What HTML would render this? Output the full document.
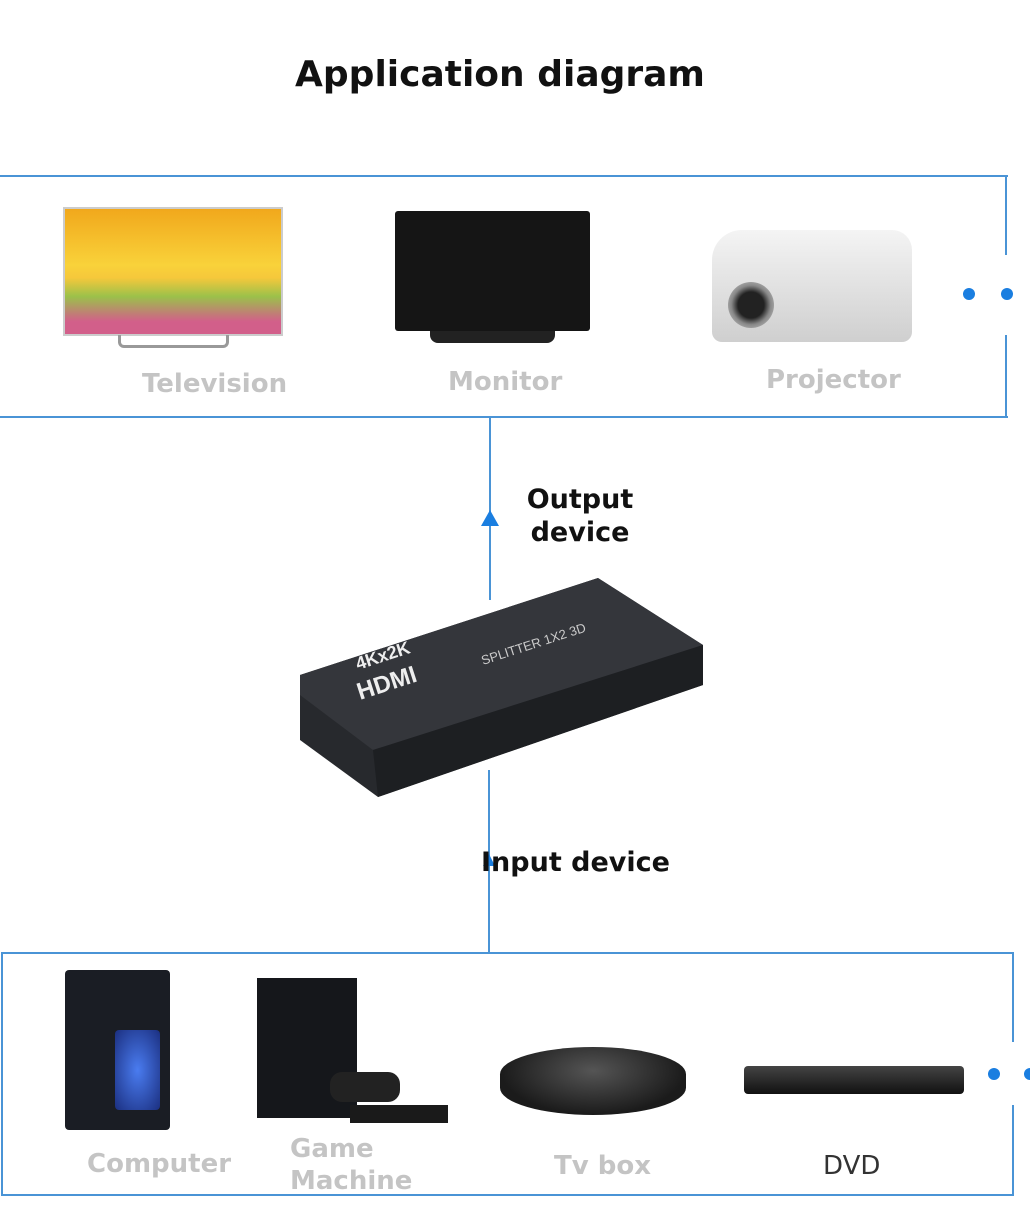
<!DOCTYPE html>
<html><head><meta charset="utf-8"><style>
body{margin:0;width:1030px;height:1213px;background:#fff;position:relative;overflow:hidden;font-family:"DejaVu Sans","Liberation Sans",sans-serif}
.a{position:absolute}
.lbl{position:absolute;color:#c4c4c4;font-weight:bold;font-size:26px}
.ln{position:absolute;background:#4a94d6}
.dot{position:absolute;width:12px;height:12px;border-radius:50%;background:#1a7ee0}
</style></head><body>
<div class="a" style="left:0;top:54px;width:1000px;text-align:center;font-size:36px;font-weight:bold;color:#111">Application diagram</div>

<div class="ln" style="left:0;top:175px;width:1008px;height:2px"></div>
<div class="ln" style="left:0;top:416px;width:1008px;height:2px"></div>
<div class="ln" style="left:1005px;top:175px;width:2px;height:80px"></div>
<div class="ln" style="left:1005px;top:335px;width:2px;height:83px"></div>
<div class="dot" style="left:963px;top:288px"></div>
<div class="dot" style="left:1001px;top:288px"></div>

<div class="a" style="left:63px;top:207px;width:216px;height:125px;background:linear-gradient(#f1a81c,#f9d23a 45%,#f6c83b 55%,#9bc14a 70%,#d25f8a 90%);border:2px solid #ccc"></div>
<div class="a" style="left:118px;top:335px;width:105px;height:10px;border:3px solid #999;border-top:none;border-radius:0 0 6px 6px"></div>
<div class="a" style="left:395px;top:211px;width:195px;height:120px;background:#151515;border-radius:3px"></div>
<div class="a" style="left:430px;top:331px;width:125px;height:12px;background:#222;border-radius:0 0 8px 8px"></div>
<div class="a" style="left:712px;top:230px;width:200px;height:112px;background:linear-gradient(#f4f4f4,#cfcfcf);border-radius:30px 20px 10px 10px"></div>
<div class="a" style="left:728px;top:282px;width:46px;height:46px;border-radius:50%;background:radial-gradient(#222 40%,#888 60%,#ddd)"></div>
<div class="lbl" style="left:142px;top:369px">Television</div>
<div class="lbl" style="left:448px;top:367px">Monitor</div>
<div class="lbl" style="left:766px;top:365px">Projector</div>

<div class="ln" style="left:489px;top:417px;width:2px;height:183px"></div>
<div class="a" style="left:481px;top:510px;width:0;height:0;border-left:9px solid transparent;border-right:9px solid transparent;border-bottom:16px solid #1a7ee0"></div>
<div class="ln" style="left:488px;top:770px;width:2px;height:184px"></div>
<div class="a" style="left:483px;top:854px;width:0;height:0;border-left:6px solid transparent;border-right:6px solid transparent;border-bottom:12px solid #1a7ee0"></div>
<div class="a" style="left:520px;top:483px;width:120px;text-align:center;font-size:27px;font-weight:bold;color:#111;line-height:33px">Output<br>device</div>
<div class="a" style="left:481px;top:847px;font-size:27px;font-weight:bold;color:#111">Input device</div>

<svg class="a" style="left:298px;top:575px" width="410" height="225">
<polygon points="2,100 300,3 405,70 405,110 80,222 2,165" fill="#27292d"/>
<polygon points="2,100 300,3 405,70 75,175 2,120" fill="#34363b"/>
<polygon points="75,175 405,70 405,110 80,222" fill="#1d1f22"/>
<text x="60" y="95" fill="#eee" font-size="18" font-weight="bold" transform="rotate(-18 60 95)" font-family="Liberation Sans">4Kx2K</text>
<text x="62" y="125" fill="#eee" font-size="24" font-weight="bold" transform="rotate(-18 62 125)" font-family="Liberation Sans">HDMI</text>
<text x="185" y="90" fill="#ccc" font-size="13" transform="rotate(-18 185 90)" font-family="Liberation Sans">SPLITTER 1X2 3D</text>
</svg>

<div class="ln" style="left:2px;top:952px;width:1012px;height:2px"></div>
<div class="ln" style="left:2px;top:1194px;width:1012px;height:2px"></div>
<div class="ln" style="left:1px;top:952px;width:2px;height:244px"></div>
<div class="ln" style="left:1012px;top:952px;width:2px;height:90px"></div>
<div class="ln" style="left:1012px;top:1105px;width:2px;height:91px"></div>
<div class="dot" style="left:988px;top:1068px"></div>
<div class="dot" style="left:1024px;top:1068px"></div>

<div class="a" style="left:65px;top:970px;width:105px;height:160px;background:#1a1d24;border-radius:4px"></div>
<div class="a" style="left:115px;top:1030px;width:45px;height:80px;background:radial-gradient(#4a7cf0,#1b2f80);border-radius:4px"></div>
<div class="a" style="left:257px;top:978px;width:100px;height:140px;background:#15171b"></div>
<div class="a" style="left:330px;top:1072px;width:70px;height:30px;background:#222;border-radius:12px"></div>
<div class="a" style="left:350px;top:1105px;width:98px;height:18px;background:#1a1a1a"></div>
<div class="a" style="left:500px;top:1047px;width:186px;height:68px;background:radial-gradient(ellipse at 50% 35%,#555,#1b1b1b 70%);border-radius:50%/40%"></div>
<div class="a" style="left:744px;top:1066px;width:220px;height:28px;background:linear-gradient(#444,#111);border-radius:4px"></div>

<div class="lbl" style="left:87px;top:1149px">Computer</div>
<div class="lbl" style="left:290px;top:1133px;line-height:32px">Game<br>Machine</div>
<div class="lbl" style="left:554px;top:1151px">Tv box</div>
<div class="a" style="left:823px;top:1151px;font-size:26px;color:#333">DVD</div>
</body></html>
